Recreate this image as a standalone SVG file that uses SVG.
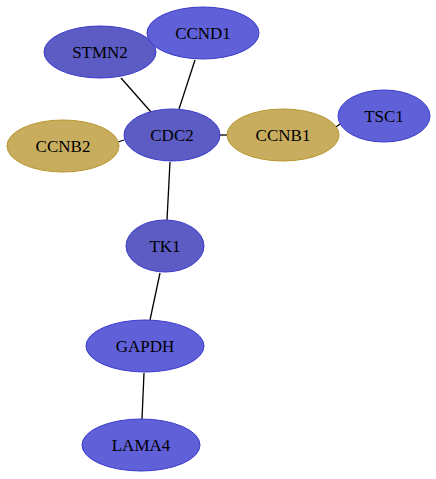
<svg xmlns="http://www.w3.org/2000/svg" width="436" height="479" viewBox="0 0 436 479">
<style>
.b ellipse{fill:#6060d8;stroke:#3a3acc;stroke-width:1}
.d ellipse{fill:#5c5cc4;stroke:#3a3acc;stroke-width:1}
.g ellipse{fill:#c8ad5e;stroke:#b8962e;stroke-width:1}
text{font-family:"Liberation Serif","Times New Roman",serif;font-size:17px;text-anchor:middle;fill:#000}
#edges line{stroke:#000;stroke-width:1.3}
</style>
<rect width="436" height="479" fill="#fff"/>
<g id="edges">
<line x1="121" y1="78" x2="151" y2="112"/>
<line x1="195" y1="60" x2="179" y2="109"/>
<line x1="118" y1="142" x2="124" y2="140"/>
<line x1="220" y1="135" x2="227" y2="135"/>
<line x1="336" y1="127" x2="340" y2="124"/>
<line x1="170" y1="162" x2="167" y2="220"/>
<line x1="160" y1="273" x2="150" y2="320"/>
<line x1="144" y1="373" x2="142" y2="419"/>
</g>
<g id="STMN2" class="d"><ellipse cx="100" cy="52" rx="56" ry="26"/><text x="100" y="58">STMN2</text></g>
<g id="CCND1" class="b"><ellipse cx="203" cy="33" rx="56" ry="26"/><text x="203" y="39">CCND1</text></g>
<g id="CDC2" class="d"><ellipse cx="172" cy="135" rx="48" ry="26"/><text x="172" y="141">CDC2</text></g>
<g id="CCNB2" class="g"><ellipse cx="63" cy="146" rx="56" ry="26"/><text x="63" y="152">CCNB2</text></g>
<g id="CCNB1" class="g"><ellipse cx="283" cy="135" rx="56" ry="26"/><text x="283" y="141">CCNB1</text></g>
<g id="TSC1" class="b"><ellipse cx="384" cy="116" rx="46" ry="26"/><text x="384" y="122">TSC1</text></g>
<g id="TK1" class="d"><ellipse cx="165" cy="246" rx="39" ry="26"/><text x="165" y="252">TK1</text></g>
<g id="GAPDH" class="b"><ellipse cx="145" cy="346" rx="59" ry="26"/><text x="145" y="352">GAPDH</text></g>
<g id="LAMA4" class="b"><ellipse cx="141" cy="445" rx="59" ry="26"/><text x="141" y="451">LAMA4</text></g>
</svg>
